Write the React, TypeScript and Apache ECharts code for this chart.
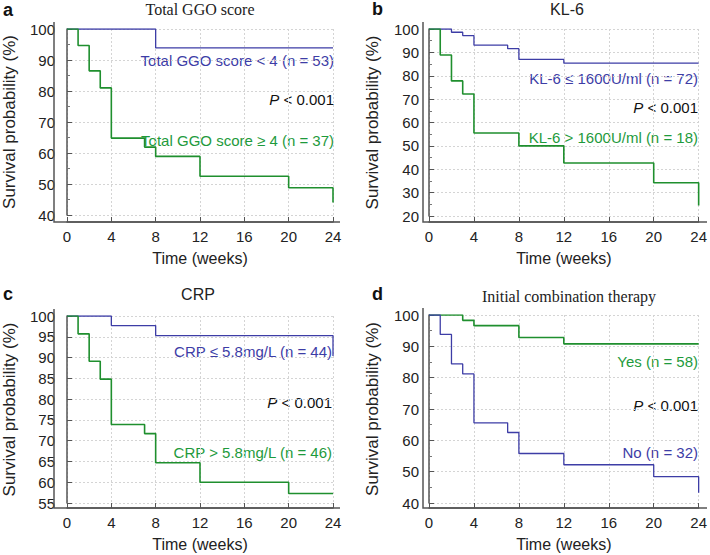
import React, { useEffect, useRef } from "react";
import * as echarts from "echarts";

// ---- data ----
const xTicks = [0, 4, 8, 12, 16, 20, 24];

// Panel a: Total GGO score
const ggoLowT = [0, 8, 24];
const ggoLowS = [100, 93.9, 93.9];
const ggoHighT = [0, 1, 2, 3, 4, 7, 8, 12, 20, 24, 24];
const ggoHighS = [100, 94.7, 86.5, 81.0, 64.8, 61.9, 58.9, 52.5, 48.8, 48.8, 44.0];

// Panel b: KL-6
const klLowT = [0, 2, 3, 4, 7, 8, 12, 24];
const klLowS = [100, 98.6, 97.2, 93.1, 91.6, 87.0, 85.4, 85.4];
const klHighT = [0, 1, 2, 3, 4, 8, 12, 20, 24, 24];
const klHighS = [100, 88.9, 77.8, 72.2, 55.5, 50.0, 42.7, 34.2, 34.2, 24.5];

// Panel c: CRP
const crpLowT = [0, 4, 8, 24, 24];
const crpLowS = [100, 97.7, 95.3, 95.3, 90.4];
const crpHighT = [0, 1, 2, 3, 4, 7, 8, 12, 20, 24];
const crpHighS = [100, 95.7, 89.1, 84.8, 73.9, 71.7, 64.7, 60.0, 57.3, 57.3];

// Panel d: Initial combination therapy
const yesT = [0, 3, 4, 8, 12, 24];
const yesS = [100, 98.3, 96.6, 92.8, 90.8, 90.8];
const noT = [0, 1, 2, 3, 4, 7, 8, 12, 20, 24, 24];
const noS = [100, 93.8, 84.4, 81.2, 65.6, 62.5, 55.8, 52.2, 48.4, 48.4, 43.3];

const panelTitles = ["Total GGO score", "KL-6", "CRP", "Initial combination therapy"];
const panelLetters = ["a", "b", "c", "d"];
const yRanges = [
  [40, 100, 10],
  [20, 100, 10],
  [55, 100, 5],
  [40, 100, 10],
];
const labelsTop = [
  "Total GGO score < 4 (n = 53)",
  "KL-6 ≤ 1600U/ml (n = 72)",
  "CRP ≤ 5.8mg/L (n = 44)",
  "Yes (n = 58)",
];
const labelsBottom = [
  "Total GGO score ≥ 4 (n = 37)",
  "KL-6 > 1600U/ml (n = 18)",
  "CRP > 5.8mg/L (n = 46)",
  "No (n = 32)",
];

const BLUE = "#3d3da6";
const GREEN = "#1e9a3c";
const GREEN_LINE = "#1f8f2e";
const AXIS = "#555";
const SANS = "'Liberation Sans', Arial, sans-serif";
const SERIF = "'Liberation Serif', 'Times New Roman', serif";

const pairs = (t: number[], s: number[]) => t.map((v, i) => [v, s[i]]);

export default function App() {
  const ref = useRef<HTMLDivElement>(null);
  useEffect(() => {
    if (!ref.current) return;
    const chart = echarts.init(ref.current, null, { renderer: "svg" });

    const grids = [
      { left: 62, top: 29, width: 271, height: 186 },
      { left: 429, top: 29, width: 271, height: 187 },
      { left: 62, top: 316, width: 271, height: 187 },
      { left: 429, top: 315, width: 271, height: 188 },
    ];
    const yOff = [8, 6, 8, 6];
    const xOff = [7, 6, 5, 5];

    const xAxis = grids.map((_, i) => ({
      type: "value",
      gridIndex: i,
      min: 0,
      max: 24,
      interval: 4,
      offset: xOff[i],
      name: "Time (weeks)",
      nameLocation: "middle",
      nameGap: 28,
      nameTextStyle: { fontFamily: SANS, fontSize: 16, color: "#222" },
      axisLine: { show: true, lineStyle: { color: AXIS, width: 1.5 } },
      axisTick: { show: true, inside: true, length: 5, lineStyle: { color: AXIS } },
      axisLabel: { fontFamily: SANS, fontSize: 15, color: "#222", margin: 7 },
      splitLine: { show: true, lineStyle: { color: "#d4d4d4", type: [2, 2], width: 1 } },
    }));

    const yAxis = grids.map((_, i) => ({
      type: "value",
      gridIndex: i,
      min: yRanges[i][0],
      max: yRanges[i][1],
      interval: yRanges[i][2],
      offset: yOff[i],
      name: "Survival probability (%)",
      nameLocation: "middle",
      nameGap: i % 2 === 0 ? 41 : 42,
      nameTextStyle: { fontFamily: SANS, fontSize: 17, color: "#222" },
      axisLine: { show: true, lineStyle: { color: AXIS, width: 1.5 } },
      axisTick: { show: true, inside: true, length: 5, lineStyle: { color: AXIS } },
      minorTick: { show: i !== 2, splitNumber: 2, length: 3, lineStyle: { color: "#777" } },
      axisLabel: { fontFamily: SANS, fontSize: 15, color: "#222", margin: 4 },
      splitLine: { show: true, lineStyle: { color: "#d4d4d4", type: [2, 2], width: 1 } },
    }));

    const mk = (i: number, data: number[][], color: string, w: number) => ({
      type: "line",
      xAxisIndex: i,
      yAxisIndex: i,
      step: "end",
      data,
      symbol: "none",
      lineStyle: { color, width: w },
      z: 3,
    });

    const series = [
      mk(0, pairs(ggoLowT, ggoLowS), BLUE, 1.3),
      mk(0, pairs(ggoHighT, ggoHighS), GREEN_LINE, 1.6),
      mk(1, pairs(klLowT, klLowS), BLUE, 1.3),
      mk(1, pairs(klHighT, klHighS), GREEN_LINE, 1.6),
      mk(2, pairs(crpLowT, crpLowS), BLUE, 1.3),
      mk(2, pairs(crpHighT, crpHighS), GREEN_LINE, 1.6),
      mk(3, pairs(yesT, yesS), GREEN_LINE, 1.6),
      mk(3, pairs(noT, noS), BLUE, 1.3),
    ];

    const topColors = [BLUE, BLUE, BLUE, GREEN];
    const botColors = [GREEN, GREEN, GREEN, BLUE];
    const labelY = [
      [60, 99, 140],
      [78, 107, 137],
      [351, 402, 452],
      [361, 405, 452],
    ];
    const rightX = [334, 698, 332, 698];
    const titleX = [200, 567, 198, 569];
    const titleY = [9, 9, 294, 296];
    const letterPos = [
      [3, 10],
      [372, 9],
      [3, 294],
      [372, 294],
    ];

    const graphic: any[] = [];
    // L-shaped axis frame extensions (the frame meets in the corner, past the offset axes)
    grids.forEach((g, i) => {
      const ax = g.left - yOff[i];
      const ay = g.top + g.height + xOff[i];
      graphic.push({
        type: "polyline",
        shape: {
          points: [
            [ax, g.top - 7],
            [ax, ay],
            [g.left + g.width + 7, ay],
          ],
        },
        style: { stroke: AXIS, lineWidth: 1.5, fill: null },
        silent: true,
        z: 10,
      });
    });
    for (let i = 0; i < 4; i++) {
      graphic.push({
        type: "text",
        x: titleX[i],
        y: titleY[i],
        style: {
          text: panelTitles[i],
          font: `16px ${i === 0 || i === 3 ? SERIF : SANS}`,
          fill: "#222",
          align: "center",
          verticalAlign: "middle",
        },
      });
      graphic.push({
        type: "text",
        x: letterPos[i][0],
        y: letterPos[i][1],
        style: {
          text: panelLetters[i],
          font: `bold 18px ${SANS}`,
          fill: "#111",
          align: "left",
          verticalAlign: "middle",
        },
      });
      graphic.push({
        type: "text",
        x: rightX[i],
        y: labelY[i][0],
        style: {
          text: labelsTop[i],
          font: `15px ${SANS}`,
          fill: topColors[i],
          align: "right",
          verticalAlign: "middle",
        },
      });
      graphic.push({
        type: "text",
        x: rightX[i],
        y: labelY[i][1],
        style: {
          text: "{i|P} < 0.001",
          font: `15px ${SANS}`,
          fill: "#111",
          align: "right",
          verticalAlign: "middle",
          rich: { i: { fontStyle: "italic", fontSize: 15, fontFamily: SANS, fill: "#111" } },
        },
      });
      graphic.push({
        type: "text",
        x: rightX[i],
        y: labelY[i][2],
        style: {
          text: labelsBottom[i],
          font: `15px ${SANS}`,
          fill: botColors[i],
          align: "right",
          verticalAlign: "middle",
        },
      });
    }

    chart.setOption({
      animation: false,
      backgroundColor: "#fff",
      grid: grids,
      xAxis,
      yAxis,
      series,
      graphic,
    });
    return () => chart.dispose();
  }, []);
  return <div ref={ref} style={{ width: 710, height: 555, position: "absolute", left: 0, top: 0 }} />;
}
